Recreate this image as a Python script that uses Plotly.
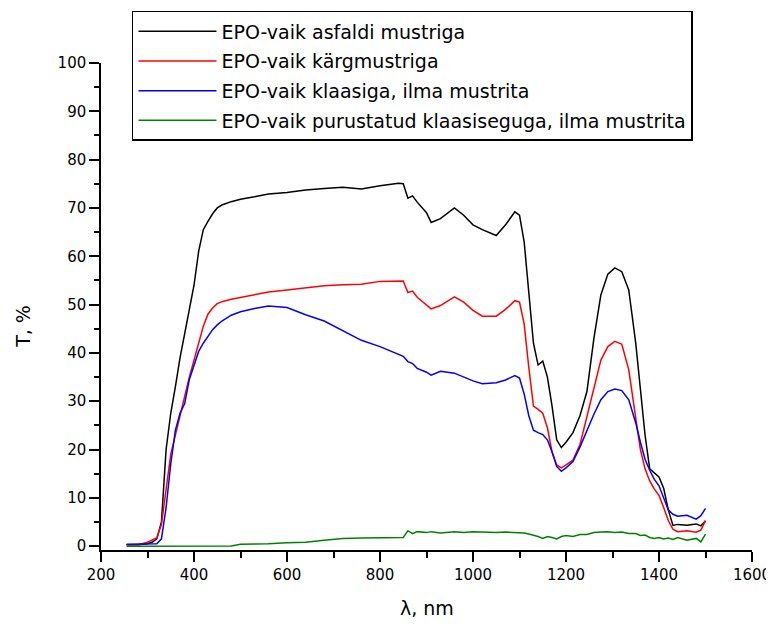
import plotly.graph_objects as go

# Transmission spectra (wavelength in nm, T in %)
wavelength = [255, 280, 300, 310, 320, 330, 340, 350, 360, 370,
              380, 390, 400, 410, 420, 430, 440, 450, 460, 480,
              500, 530, 560, 600, 640, 680, 720, 760, 800, 840,
              850, 860, 870, 880, 900, 910, 930, 960, 980, 1000,
              1020, 1050, 1070, 1090, 1100, 1110, 1120, 1130, 1140, 1150,
              1160, 1170, 1180, 1190, 1200, 1215, 1230, 1245, 1260, 1275,
              1290, 1305, 1320, 1335, 1350, 1360, 1370, 1380, 1390, 1400,
              1410, 1420, 1430, 1440, 1460, 1480, 1490, 1500]

t_asfalt = [0.3, 0.3, 0.5, 0.8, 1.5, 5, 20, 27.5, 33, 39,
            44, 49, 54, 61, 65.5, 67.2, 68.8, 70, 70.6, 71.3,
            71.8, 72.3, 72.9, 73.2, 73.7, 74.0, 74.3, 73.9, 74.6, 75.1,
            75.0, 72.0, 72.5, 71.2, 69.0, 67.0, 67.8, 70.0, 68.5, 66.5,
            65.5, 64.3, 66.5, 69.2, 68.5, 63, 52, 42, 37.5, 38.3,
            35, 29, 22, 20.4, 21.5, 23.5, 27, 32, 43, 52,
            56.3, 57.6, 56.8, 53, 42, 32, 23, 16, 15.2, 14.3,
            12, 7.5, 4.3, 4.5, 4.3, 4.6, 4.2, 5.2]

t_karg = [0.3, 0.3, 0.8, 1.3, 1.7, 4.5, 12, 19, 23, 27,
          31.5, 35, 38.5, 42, 45.5, 48, 49.3, 50.2, 50.6, 51.1,
          51.5, 52.1, 52.6, 53.0, 53.5, 53.9, 54.1, 54.2, 54.8, 55.0,
          54.9, 52.5, 52.8, 51.5, 50, 49.1, 49.8, 51.6, 50.5, 48.8,
          47.6, 47.6, 49, 50.8, 50.5, 46, 37, 29, 28.3, 27.5,
          24.5, 19.5, 16.8, 16.2, 16.8, 17.8, 21, 27, 33, 38.5,
          41.3, 42.4, 41.8, 36.5, 26.5, 20, 16, 13.5, 11.8, 10.5,
          8, 5.3, 3.5, 3, 3.2, 2.9, 3.3, 5.3]

t_klaas = [0.4, 0.4, 0.4, 0.4, 0.5, 1.5, 8, 17, 24, 27.5,
           29.5, 34.5, 37.5, 40.3, 42, 43.5, 44.8, 45.8, 46.6, 47.8,
           48.5, 49.2, 49.7, 49.4, 47.9, 46.6, 44.6, 42.6, 41.3, 39.8,
           39.3, 38.2, 37.8, 36.8, 36.0, 35.4, 36.2, 35.8, 35.0, 34.2,
           33.6, 33.8, 34.4, 35.3, 34.8, 31.5, 27, 24, 23.5, 23.1,
           22, 19.5, 16.5, 15.5, 16.2, 17.5, 20.5, 24, 27.3, 30.3,
           32, 32.5, 32.2, 30.3, 25.5, 21.5, 18, 15.7, 13.8, 12.5,
           10, 7.5, 6.6, 6.2, 6.4, 5.6, 6.3, 7.8]

t_purustatud = [0, 0, 0, 0, 0, 0, 0, 0, 0, 0,
                0, 0, 0, 0, 0, 0, 0, 0, 0, 0.05,
                0.4, 0.4, 0.5, 0.7, 0.8, 1.2, 1.6, 1.7, 1.7, 1.8,
                1.8, 3.2, 2.6, 3.0, 2.8, 3.0, 2.7, 3.0, 2.8, 3.0,
                2.9, 2.8, 2.9, 2.8, 2.8, 2.7, 2.5, 2.3, 2.0, 1.6,
                2.0, 1.8, 1.5, 2.0, 2.2, 2.0, 2.4, 2.4, 2.8, 2.9,
                3.0, 2.8, 2.9, 2.6, 2.6, 2.2, 2.3, 1.8, 1.6, 1.8,
                1.5, 1.7, 1.4, 1.8, 1.2, 1.6, 0.9, 2.5]

series = [
    ("EPO-vaik asfaldi mustriga", t_asfalt, "#000000"),
    ("EPO-vaik kärgmustriga", t_karg, "#ff0000"),
    ("EPO-vaik klaasiga, ilma mustrita", t_klaas, "#0000ff"),
    ("EPO-vaik purustatud klaasiseguga, ilma mustrita", t_purustatud, "#008000"),
]

fig = go.Figure()
for i, (name, vals, col) in enumerate(series):
    fig.add_trace(go.Scatter(x=wavelength, y=vals, mode="lines", name=name,
                             legendgroup=str(i),
                             line=dict(color=col, width=1.5)))

# page body adds an 8px margin, so the figure is sized to fit inside the window
axis_font = dict(family="DejaVu Sans", size=15, color="black")
fig.update_layout(
    width=766, height=614,
    margin=dict(l=93, r=22, t=55, b=72, autoexpand=False),
    plot_bgcolor="white", paper_bgcolor="white",
    font=dict(family="DejaVu Sans", color="black"),
    legend=dict(x=0.0476, y=1.107, xanchor="left", yanchor="top",
                bordercolor="black", borderwidth=1.5, bgcolor="white",
                font=dict(family="DejaVu Sans", size=19, color="black"),
                itemwidth=78, tracegroupgap=2),
    xaxis=dict(range=[200, 1600], dtick=200, showgrid=False, zeroline=False,
               showline=True, linecolor="black", linewidth=1.5, automargin=False,
               ticks="outside", ticklen=10, tickwidth=1.5, tickcolor="black",
               minor=dict(dtick=100, ticks="outside", ticklen=6, tickwidth=1.5, tickcolor="black"),
               tickfont=axis_font),
    yaxis=dict(range=[-0.8, 100], tick0=0, dtick=10, showgrid=False, zeroline=False,
               showline=True, linecolor="black", linewidth=1.5, automargin=False,
               ticks="outside", ticklen=10, tickwidth=1.5, tickcolor="black",
               minor=dict(dtick=5, ticks="outside", ticklen=5, tickwidth=1.5, tickcolor="black"),
               tickfont=axis_font),
    annotations=[
        dict(text="λ, nm", xref="paper", yref="paper", x=0.5, y=-0.12,
             xanchor="center", yanchor="middle", showarrow=False,
             font=dict(family="DejaVu Sans", size=19, color="black")),
        dict(text="T, %", xref="paper", yref="paper", x=-0.12, y=0.46,
             xanchor="center", yanchor="middle", showarrow=False, textangle=-90,
             font=dict(family="DejaVu Sans", size=19, color="black")),
    ],
)

fig.write_html("out.html")
